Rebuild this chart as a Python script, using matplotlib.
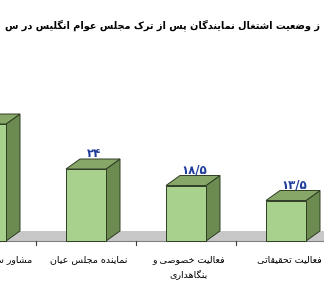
import matplotlib
matplotlib.use('Agg')
import matplotlib.pyplot as plt
from matplotlib.patches import Polygon, Rectangle

# data
categories = ['مشاور سیاسی و مالی', 'نماینده مجلس عیان', 'فعالیت خصوصی و\nبنگاهداری', 'فعالیت تحقیقاتی']
values = [39, 24, 18.5, 13.5]
value_labels = ['۳۹', '۲۴', '۱۸/۵', '۱۳/۵']
title = 'ز وضعیت اشتغال نمایندگان پس از ترک مجلس عوام انگلیس در س'

# arabic / persian shaping (matplotlib has no shaping of its own)
# forms: isolated, final, initial, medial (2 entries = joins on the right only)
FORMS = {
    'ء': (0xFE80,), 'آ': (0xFE81, 0xFE82), 'ا': (0xFE8D, 0xFE8E),
    'ئ': (0xFE89, 0xFE8A, 0xFE8B, 0xFE8C),
    'ب': (0xFE8F, 0xFE90, 0xFE91, 0xFE92), 'پ': (0xFB56, 0xFB57, 0xFB58, 0xFB59),
    'ت': (0xFE95, 0xFE96, 0xFE97, 0xFE98), 'ث': (0xFE99, 0xFE9A, 0xFE9B, 0xFE9C),
    'ج': (0xFE9D, 0xFE9E, 0xFE9F, 0xFEA0), 'چ': (0xFB7A, 0xFB7B, 0xFB7C, 0xFB7D),
    'ح': (0xFEA1, 0xFEA2, 0xFEA3, 0xFEA4), 'خ': (0xFEA5, 0xFEA6, 0xFEA7, 0xFEA8),
    'د': (0xFEA9, 0xFEAA), 'ذ': (0xFEAB, 0xFEAC), 'ر': (0xFEAD, 0xFEAE),
    'ز': (0xFEAF, 0xFEB0), 'ژ': (0xFB8A, 0xFB8B),
    'س': (0xFEB1, 0xFEB2, 0xFEB3, 0xFEB4), 'ش': (0xFEB5, 0xFEB6, 0xFEB7, 0xFEB8),
    'ص': (0xFEB9, 0xFEBA, 0xFEBB, 0xFEBC), 'ض': (0xFEBD, 0xFEBE, 0xFEBF, 0xFEC0),
    'ط': (0xFEC1, 0xFEC2, 0xFEC3, 0xFEC4), 'ظ': (0xFEC5, 0xFEC6, 0xFEC7, 0xFEC8),
    'ع': (0xFEC9, 0xFECA, 0xFECB, 0xFECC), 'غ': (0xFECD, 0xFECE, 0xFECF, 0xFED0),
    'ف': (0xFED1, 0xFED2, 0xFED3, 0xFED4), 'ق': (0xFED5, 0xFED6, 0xFED7, 0xFED8),
    'ک': (0xFB8E, 0xFB8F, 0xFB90, 0xFB91), 'گ': (0xFB92, 0xFB93, 0xFB94, 0xFB95),
    'ل': (0xFEDD, 0xFEDE, 0xFEDF, 0xFEE0), 'م': (0xFEE1, 0xFEE2, 0xFEE3, 0xFEE4),
    'ن': (0xFEE5, 0xFEE6, 0xFEE7, 0xFEE8), 'و': (0xFEED, 0xFEEE),
    'ه': (0xFEE9, 0xFEEA, 0xFEEB, 0xFEEC), 'ی': (0xFBFC, 0xFBFD, 0xFBFE, 0xFBFF),
}


def shape_word(s):
    out = []
    n = len(s)
    i = 0
    while i < n:
        c = s[i]
        if c not in FORMS:
            out.append(c)
            i += 1
            continue
        prev = s[i - 1] if i > 0 else ''
        joins_prev = prev in FORMS and len(FORMS[prev]) == 4
        # lam + alef ligature
        if c == 'ل' and i + 1 < n and s[i + 1] == 'ا':
            out.append(chr(0xFEFC if joins_prev else 0xFEFB))
            i += 2
            continue
        nxt = s[i + 1] if i + 1 < n else ''
        f = FORMS[c]
        joins_next = len(f) == 4 and nxt in FORMS
        if joins_prev and joins_next:
            out.append(chr(f[3]))
        elif joins_prev:
            out.append(chr(f[1]))
        elif joins_next:
            out.append(chr(f[2]))
        else:
            out.append(chr(f[0]))
        i += 1
    return ''.join(out)


def rtl(text):
    return '\n'.join(shape_word(line)[::-1] for line in text.split('\n'))


front = '#a9d18e'
side = '#6b8b50'
top = '#86a767'
edge = '#2f3d24'

W = 324
H = 285
fig = plt.figure(figsize=(W / 100, H / 100), dpi=100)
ax = fig.add_axes([0, 0, 1, 1])
# 1 category = 100 px, 1 unit = 3 px, floor front edge at 241 px from top
ax.set_xlim(0.14, 0.14 + W / 100)
ax.set_ylim((241 - H) / 3, 241 / 3)
ax.axis('off')

dx = 0.14
dy = 10 / 3
hw = 0.2
n = len(values)

# floor
ax.add_patch(Polygon([(-1, 0), (n + 1, 0), (n + 1 + dx, dy), (-1 + dx, dy)],
                     closed=True, facecolor='#c8c8c8', edgecolor='none', zorder=1))
ax.plot([-1, n + 1], [0, 0], color='#808080', lw=0.8, zorder=2)
for i in range(n):
    ax.plot([i + 0.5, i + 0.5], [0, -1.4], color='#404040', lw=0.8, zorder=2)

for i, v in enumerate(values):
    x0 = i - hw
    x1 = i + hw
    ax.add_patch(Polygon([(x1, 0), (x1 + dx, dy), (x1 + dx, v + dy), (x1, v)],
                         closed=True, facecolor=side, edgecolor=edge, lw=0.7, zorder=3))
    ax.add_patch(Polygon([(x0, v), (x1, v), (x1 + dx, v + dy), (x0 + dx, v + dy)],
                         closed=True, facecolor=top, edgecolor=edge, lw=0.7, zorder=3))
    ax.add_patch(Rectangle((x0, 0), 2 * hw, v, facecolor=front, edgecolor=edge,
                           lw=0.7, zorder=4))
    ax.text(i + 0.08, v + 5.3, value_labels[i], ha='center', va='center',
            fontsize=8.5, fontweight='bold', color='#1f3c9a', family='DejaVu Sans')
    ax.text(i + 0.03, -4.6, rtl(categories[i]), ha='center', va='top',
            fontsize=6.8, color='black', linespacing=1.65, family='DejaVu Sans')

ax.text(1.765, 72, rtl(title), ha='center', va='center', fontsize=7.0,
        fontweight='bold', color='black', family='DejaVu Sans')

fig.savefig('out.png', dpi=100)
